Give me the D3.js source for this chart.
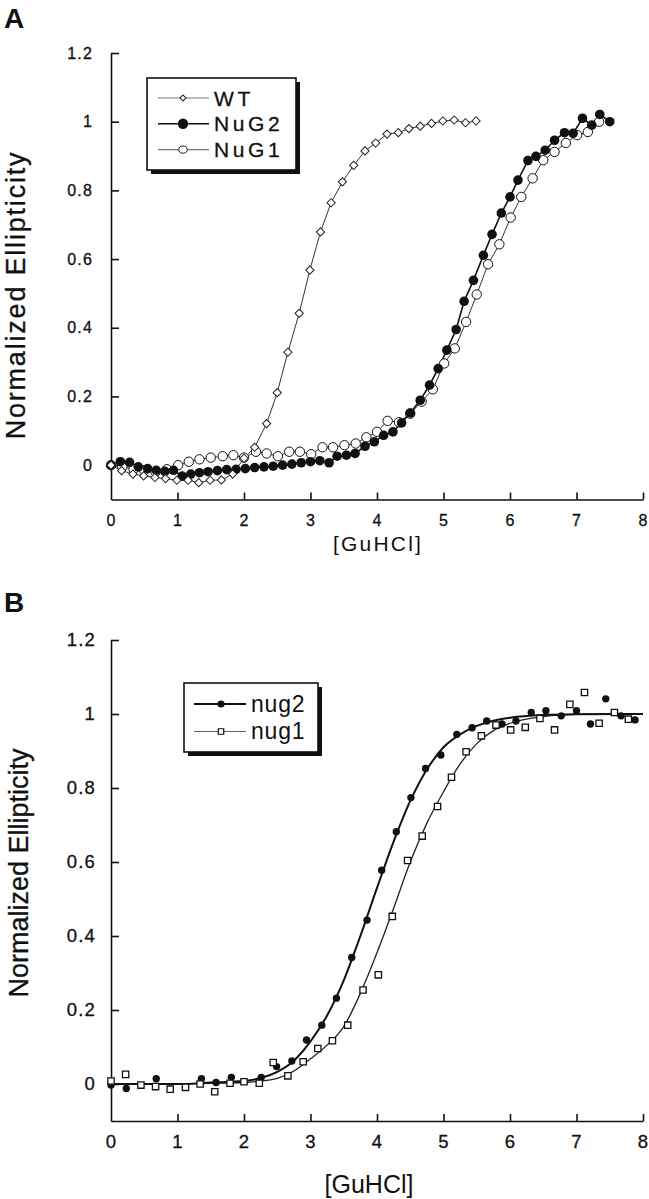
<!DOCTYPE html>
<html>
<head>
<meta charset="utf-8">
<script src="https://cdn.jsdelivr.net/npm/d3@7"></script>
<style>
body { margin: 0; background: #fff; }
svg text { font-family: "Liberation Sans", Arial, sans-serif; fill: #111; }
</style>
</head>
<body>
<script>
// ---- panel A : raw unfolding curves ----
var wtX = [0, 0.16, 0.33, 0.49, 0.66, 0.82, 0.99, 1.16, 1.32, 1.49, 1.66, 1.83, 2.00, 2.16, 2.34, 2.50, 2.66, 2.83, 2.99, 3.15, 3.31, 3.48, 3.65, 3.82, 3.98, 4.15, 4.32, 4.48, 4.65, 4.82, 4.99, 5.16, 5.33, 5.49];
var wtY = [0, -0.016, -0.026, -0.031, -0.036, -0.039, -0.044, -0.044, -0.051, -0.044, -0.043, -0.026, 0.02, 0.052, 0.121, 0.211, 0.329, 0.442, 0.568, 0.679, 0.764, 0.825, 0.873, 0.915, 0.938, 0.964, 0.968, 0.980, 0.987, 0.995, 1.002, 1.005, 0.997, 1.002];

var nuG2X = [0, 0.14, 0.28, 0.41, 0.55, 0.68, 0.81, 0.94, 1.07, 1.20, 1.33, 1.46, 1.60, 1.74, 1.88, 2.02, 2.16, 2.30, 2.44, 2.58, 2.72, 2.86, 3.00, 3.14, 3.28, 3.40, 3.54, 3.67, 3.82, 3.96, 4.10, 4.24, 4.37, 4.50, 4.65, 4.79, 4.92, 5.05, 5.19, 5.31, 5.45, 5.60, 5.73, 5.87, 6.00, 6.12, 6.27, 6.39, 6.53, 6.67, 6.82, 6.95, 7.09, 7.23, 7.35, 7.50];
var nuG2Y = [0, 0.010, 0.008, -0.005, -0.010, -0.015, -0.018, -0.015, -0.032, -0.026, -0.022, -0.019, -0.016, -0.013, -0.012, -0.010, -0.007, -0.005, -0.003, 0.000, 0.003, 0.007, 0.010, 0.013, 0.007, 0.026, 0.029, 0.034, 0.055, 0.068, 0.087, 0.097, 0.123, 0.152, 0.189, 0.233, 0.281, 0.335, 0.395, 0.477, 0.538, 0.611, 0.672, 0.734, 0.781, 0.830, 0.887, 0.899, 0.917, 0.946, 0.968, 0.966, 1.010, 0.990, 1.021, 1.000];

var nuG1X = [0, 0.17, 0.34, 0.50, 0.67, 0.84, 1.01, 1.17, 1.33, 1.50, 1.68, 1.84, 2.00, 2.18, 2.34, 2.51, 2.68, 2.84, 3.01, 3.18, 3.34, 3.51, 3.68, 3.84, 4.00, 4.16, 4.33, 4.50, 4.67, 4.84, 5.01, 5.17, 5.34, 5.50, 5.67, 5.84, 6.01, 6.17, 6.34, 6.50, 6.67, 6.84, 7.01, 7.17, 7.34];
var nuG1Y = [0, -0.005, -0.012, -0.015, -0.020, -0.012, 0.000, 0.010, 0.017, 0.022, 0.026, 0.029, 0.022, 0.039, 0.034, 0.026, 0.039, 0.039, 0.032, 0.052, 0.052, 0.058, 0.063, 0.081, 0.097, 0.129, 0.125, 0.150, 0.185, 0.221, 0.296, 0.340, 0.417, 0.497, 0.585, 0.643, 0.721, 0.781, 0.835, 0.888, 0.912, 0.938, 0.961, 0.970, 1.000];

var legendA = ["WT", "NuG2", "NuG1"];

// ---- panel B : points + fitted curves ----
var nug2X = [0, 0.23, 0.68, 1.36, 1.58, 1.81, 2.26, 2.49, 2.72, 2.94, 3.17, 3.39, 3.62, 3.85, 4.07, 4.29, 4.51, 4.73, 4.96, 5.20, 5.43, 5.65, 5.88, 6.09, 6.32, 6.54, 6.77, 7.00, 7.21, 7.44, 7.67, 7.88];
var nug2Y = [-0.003, -0.012, 0.014, 0.014, 0.004, 0.018, 0.018, 0.047, 0.062, 0.119, 0.159, 0.232, 0.342, 0.443, 0.578, 0.682, 0.774, 0.853, 0.889, 0.945, 0.963, 0.981, 0.973, 0.981, 1.004, 1.009, 0.995, 1.009, 0.973, 1.041, 0.995, 0.984];

var nug1X = [0, 0.22, 0.45, 0.67, 0.89, 1.12, 1.34, 1.56, 1.79, 2.00, 2.23, 2.44, 2.66, 2.89, 3.11, 3.33, 3.56, 3.79, 4.02, 4.23, 4.46, 4.68, 4.91, 5.12, 5.34, 5.57, 5.79, 6.01, 6.23, 6.45, 6.67, 6.90, 7.12, 7.34, 7.57, 7.78];
var nug1Y = [0.008, 0.026, -0.003, -0.007, -0.014, -0.009, 0.000, -0.021, 0.002, 0.006, 0.002, 0.058, 0.022, 0.060, 0.096, 0.117, 0.159, 0.254, 0.295, 0.453, 0.604, 0.670, 0.750, 0.829, 0.898, 0.941, 0.970, 0.957, 0.964, 0.988, 0.957, 1.026, 1.058, 0.975, 1.004, 0.986];

// fitted lines
var fitX    = [0, 1, 1.5, 2, 2.25, 2.5, 2.75, 3, 3.25, 3.5, 3.75, 4, 4.25, 4.5, 4.75, 5, 5.25, 5.5, 5.75, 6, 6.5, 7, 8];
var fitNug2 = [0, 0, 0.004, 0.008, 0.016, 0.033, 0.063, 0.115, 0.185, 0.28, 0.40, 0.53, 0.655, 0.765, 0.85, 0.91, 0.945, 0.968, 0.982, 0.99, 0.997, 0.999, 1.0];
var fitNug1 = [0, 0, 0.002, 0.004, 0.008, 0.015, 0.035, 0.068, 0.105, 0.155, 0.245, 0.355, 0.475, 0.60, 0.705, 0.79, 0.865, 0.92, 0.955, 0.975, 0.993, 0.999, 1.0];

var legendB = ["nug2", "nug1"];

// shared axis ticks
var xTicks = [0, 1, 2, 3, 4, 5, 6, 7, 8];
var yTicks = [0, 0.2, 0.4, 0.6, 0.8, 1, 1.2];
var yTickLabels = ["0", "0.2", "0.4", "0.6", "0.8", "1", "1.2"];

function pts(xs, ys) { return xs.map(function (d, i) { return {x: d, y: ys[i]}; }); }

var svg = d3.select("body").append("svg")
    .attr("width", 649)
    .attr("height", 1199);

// draws axes for one panel
function frame(x, y, o) {
  var yAx = svg.append("g")
      .attr("transform", "translate(" + x.range()[0] + ",0)")
      .call(d3.axisLeft(y).tickValues(yTicks).tickFormat(function (d, i) { return yTickLabels[i]; })
        .tickSizeInner(-8).tickSizeOuter(0).tickPadding(o.yPad));
  var xAx = svg.append("g")
      .attr("transform", "translate(0," + y.range()[0] + ")")
      .call(d3.axisBottom(x).tickValues(xTicks).tickFormat(d3.format("d"))
        .tickSizeInner(-7).tickSizeOuter(0).tickPadding(o.xPad));
  [yAx, xAx].forEach(function (a) {
    a.attr("font-family", null).attr("font-size", null);
    a.select(".domain").attr("stroke", "#111").attr("stroke-width", 1.6);
    a.selectAll(".tick line").attr("stroke", "#111").attr("stroke-width", 1.6);
    a.selectAll(".tick text").attr("font-size", o.tickFont + "px").style("letter-spacing", o.tickLs + "px")
        .attr("fill", "#111").attr("stroke", "#111").attr("stroke-width", 0.3);
  });
  xAx.selectAll(".tick").filter(function (d) { return d === 0; }).select("line").remove();

  svg.append("text")
      .attr("x", o.xTitleX).attr("y", o.xTitleY)
      .attr("text-anchor", "middle")
      .attr("font-size", o.xTitleFont + "px")
      .style("letter-spacing", o.xTitleLs + "px")
      .text("[GuHCl]");

  svg.append("text")
      .attr("transform", "translate(" + o.yTitleX + "," + o.yTitleY + ") rotate(-90)")
      .attr("text-anchor", "middle")
      .attr("font-size", o.yTitleFont + "px")
      .style("letter-spacing", o.yTitleLs + "px")
      .attr("stroke", "#111").attr("stroke-width", 0.3)
      .text("Normalized Ellipticity");

  svg.append("text")
      .attr("x", 4).attr("y", o.letterY)
      .attr("font-size", "28px").attr("font-weight", "bold")
      .text(o.letter);
}

function legendBox(x0, y0, w, h) {
  svg.append("rect").attr("x", x0 + 4).attr("y", y0 + 4).attr("width", w).attr("height", h).attr("fill", "#111");
  svg.append("rect").attr("x", x0).attr("y", y0).attr("width", w).attr("height", h)
      .attr("fill", "#fff").attr("stroke", "#111").attr("stroke-width", 1.6);
}

// ===================== PANEL A =====================
var xA = d3.scaleLinear().domain([0, 8]).range([111, 643]);
var yA = d3.scaleLinear().domain([-0.1, 1.2]).range([499.5, 53]);

frame(xA, yA, {yPad: 18, xPad: 15, tickFont: 16, tickLs: 1.2,
  xTitleX: 378, xTitleY: 551, xTitleFont: 21, xTitleLs: 2.2,
  yTitleX: 25, yTitleY: 295, yTitleFont: 27, yTitleLs: 1.8,
  letter: "A", letterY: 28});

var lineA = d3.line().x(function (d) { return xA(d.x); }).y(function (d) { return yA(d.y); });

var seriesA = [
  {name: "WT",   data: pts(wtX, wtY),     stroke: "#333", sw: 1},
  {name: "NuG1", data: pts(nuG1X, nuG1Y), stroke: "#333", sw: 1},
  {name: "NuG2", data: pts(nuG2X, nuG2Y), stroke: "#111", sw: 1.6}
];
seriesA.forEach(function (s) {
  svg.append("path").datum(s.data).attr("d", lineA)
      .attr("fill", "none").attr("stroke", s.stroke).attr("stroke-width", s.sw);
});

svg.append("g").selectAll("circle").data(pts(nuG1X, nuG1Y)).enter().append("circle")
    .attr("cx", function (d) { return xA(d.x); }).attr("cy", function (d) { return yA(d.y); })
    .attr("r", 4.7).attr("fill", "#fff").attr("stroke", "#111").attr("stroke-width", 1);

svg.append("g").selectAll("circle").data(pts(nuG2X, nuG2Y)).enter().append("circle")
    .attr("cx", function (d) { return xA(d.x); }).attr("cy", function (d) { return yA(d.y); })
    .attr("r", 4.8).attr("fill", "#111");

var diamond = d3.symbol().type(d3.symbolSquare).size(34);
svg.append("g").selectAll("path").data(pts(wtX, wtY)).enter().append("path")
    .attr("d", diamond)
    .attr("transform", function (d) { return "translate(" + xA(d.x) + "," + yA(d.y) + ") rotate(45)"; })
    .attr("fill", "#fff").attr("stroke", "#222").attr("stroke-width", 1);

// legend A
legendBox(147, 78, 149, 92);
var legA = svg.append("g").selectAll("g").data(legendA).enter().append("g")
    .attr("transform", function (d, i) { return "translate(0," + (98 + i * 25.8) + ")"; });
legA.append("line").attr("x1", 158).attr("x2", 209).attr("y1", 0).attr("y2", 0)
    .attr("stroke", function (d) { return d === "NuG2" ? "#111" : "#777"; })
    .attr("stroke-width", function (d) { return d === "NuG2" ? 1.6 : 1.2; });
legA.each(function (d) {
  var g = d3.select(this);
  if (d === "WT") {
    g.append("path").attr("d", d3.symbol().type(d3.symbolSquare).size(18))
        .attr("transform", "translate(183,0) rotate(45)")
        .attr("fill", "#fff").attr("stroke", "#222").attr("stroke-width", 1);
  } else if (d === "NuG2") {
    g.append("circle").attr("cx", 183).attr("r", 5.2).attr("fill", "#111");
  } else {
    g.append("ellipse").attr("cx", 183).attr("rx", 4.2).attr("ry", 3.6)
        .attr("fill", "#fff").attr("stroke", "#222").attr("stroke-width", 1);
  }
});
legA.append("text").attr("x", 214).attr("y", 7.5)
    .attr("font-size", "21px").style("letter-spacing", "3.6px")
    .attr("stroke", "#111").attr("stroke-width", 0.3)
    .text(function (d) { return d; });

// ===================== PANEL B =====================
var xB = d3.scaleLinear().domain([0, 8]).range([111, 643]);
var yB = d3.scaleLinear().domain([-0.1, 1.2]).range([1121, 640]);

frame(xB, yB, {yPad: 15, xPad: 14, tickFont: 18.5, tickLs: 1.2,
  xTitleX: 369, xTitleY: 1193, xTitleFont: 25, xTitleLs: 0,
  yTitleX: 28, yTitleY: 873, yTitleFont: 27, yTitleLs: 0,
  letter: "B", letterY: 612});

var fitLine = d3.line().curve(d3.curveMonotoneX)
    .x(function (d) { return xB(d.x); }).y(function (d) { return yB(d.y); });

svg.append("path").datum(pts(fitX, fitNug1)).attr("d", fitLine)
    .attr("fill", "none").attr("stroke", "#222").attr("stroke-width", 1.3);
svg.append("path").datum(pts(fitX, fitNug2)).attr("d", fitLine)
    .attr("fill", "none").attr("stroke", "#111").attr("stroke-width", 2);

svg.append("g").selectAll("circle").data(pts(nug2X, nug2Y)).enter().append("circle")
    .attr("cx", function (d) { return xB(d.x); }).attr("cy", function (d) { return yB(d.y); })
    .attr("r", 3.7).attr("fill", "#111");

var square = d3.symbol().type(d3.symbolSquare).size(40);
svg.append("g").selectAll("path").data(pts(nug1X, nug1Y)).enter().append("path")
    .attr("d", square)
    .attr("transform", function (d) { return "translate(" + xB(d.x) + "," + yB(d.y) + ")"; })
    .attr("fill", "#fff").attr("stroke", "#111").attr("stroke-width", 1.3);

// legend B
legendBox(184, 683, 134, 69);
var legB = svg.append("g").selectAll("g").data(legendB).enter().append("g")
    .attr("transform", function (d, i) { return "translate(0," + (704 + i * 27.5) + ")"; });
legB.append("line").attr("x1", 194).attr("x2", 246).attr("y1", 0).attr("y2", 0)
    .attr("stroke", function (d) { return d === "nug2" ? "#111" : "#666"; })
    .attr("stroke-width", function (d) { return d === "nug2" ? 1.8 : 1.2; });
legB.each(function (d) {
  var g = d3.select(this);
  if (d === "nug2") {
    g.append("circle").attr("cx", 221).attr("r", 3.6).attr("fill", "#111");
  } else {
    g.append("path").attr("d", d3.symbol().type(d3.symbolSquare).size(30))
        .attr("transform", "translate(221,0)")
        .attr("fill", "#fff").attr("stroke", "#111").attr("stroke-width", 1.2);
  }
});
legB.append("text").attr("x", 251).attr("y", 7.5)
    .attr("font-size", "23px").style("letter-spacing", "0.8px")
    .text(function (d) { return d; });
</script>
</body>
</html>
